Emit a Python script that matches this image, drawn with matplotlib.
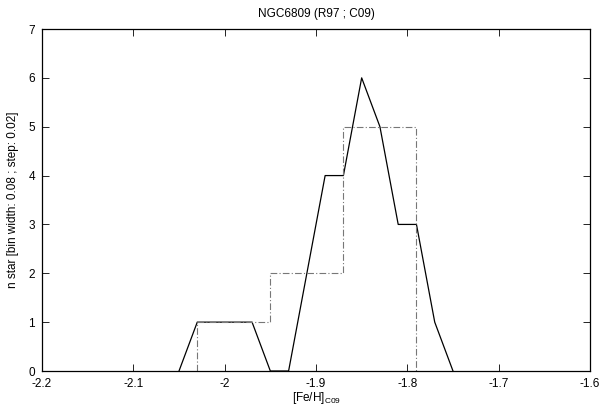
import matplotlib
matplotlib.use("Agg")
import matplotlib.pyplot as plt

# running histogram (bin width 0.08, step 0.02)
feh_run = [-2.05, -2.03, -2.01, -1.99, -1.97, -1.95, -1.93, -1.91,
           -1.89, -1.87, -1.85, -1.83, -1.81, -1.79, -1.77, -1.75]
n_run = [0, 1, 1, 1, 1, 0, 0, 2, 4, 4, 6, 5, 3, 3, 1, 0]

# classic histogram bin edges and counts
bin_edges = [-2.03, -1.95, -1.87, -1.79]
n_bins = [1, 2, 5]

plt.rcParams['font.family'] = ['Liberation Sans', 'DejaVu Sans']
plt.rcParams['font.size'] = 8.5

fig = plt.figure(figsize=(6.0, 4.09), dpi=100)
ax = fig.add_axes([42 / 600, 1 - 371 / 409, 548 / 600, 342 / 409])

ax.plot(feh_run, n_run, color='black', lw=0.9)

# step outline with drops to zero at both ends
xs = [bin_edges[0]]
ys = [0]
for i, c in enumerate(n_bins):
    xs += [bin_edges[i], bin_edges[i + 1]]
    ys += [c, c]
xs.append(bin_edges[-1])
ys.append(0)
ax.plot(xs, ys, color='#777777', lw=0.8, linestyle=(0, (6, 2, 1, 2)))

ax.set_xlim(-2.2, -1.6)
ax.set_ylim(0, 7)
ax.set_xticks([-2.2, -2.1, -2.0, -1.9, -1.8, -1.7, -1.6])
ax.set_xticklabels(['-2.2', '-2.1', '-2', '-1.9', '-1.8', '-1.7', '-1.6'])
ax.set_yticks(range(0, 8))
ax.tick_params(direction='in', top=True, right=True, length=5, width=0.6, pad=5)
for s in ax.spines.values():
    s.set_linewidth(0.9)

ax.set_title('NGC6809 (R97 ; C09)', fontsize=8.5, pad=9)
ax.set_xlabel(r'[Fe/H]$_{\mathregular{C09}}$', labelpad=0)
ax.set_ylabel('n star [bin width: 0.08 ; step: 0.02]', labelpad=7)

fig.savefig('out.png', dpi=100)
